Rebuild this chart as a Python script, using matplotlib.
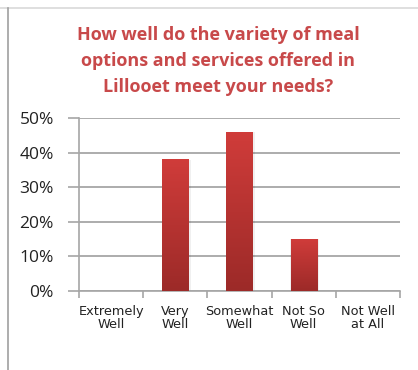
import numpy as np
import matplotlib.pyplot as plt
from matplotlib.lines import Line2D
from matplotlib.colors import LinearSegmentedColormap

categories = ["Extremely\nWell", "Very\nWell", "Somewhat\nWell", "Not So\nWell", "Not Well\nat All"]
shares = [0, 38, 46, 15, 0]
yticks = [0, 10, 20, 30, 40, 50]
title = "How well do the variety of meal\noptions and services offered in\nLillooet meet your needs?"

W, H = 418, 370
fig = plt.figure(figsize=(W / 100, H / 100), dpi=100)
fig.patch.set_facecolor("white")

# frame lines along the top and left edge
fig.add_artist(Line2D([0, 1], [1 - 8 / H, 1 - 8 / H], color="#d9d9d9", lw=1.2, transform=fig.transFigure))
fig.add_artist(Line2D([8 / W, 8 / W], [0, 1 - 8 / H], color="#a0a0a0", lw=1.2, transform=fig.transFigure))

ax = fig.add_axes([79 / W, 1 - 291 / H, (400 - 79) / W, (291 - 118.3) / H])
x = np.arange(len(categories))
bars = ax.bar(x, shares, width=0.41, color="none", edgecolor="none", zorder=3)

# vertical red gradient inside each bar
cmap = LinearSegmentedColormap.from_list("redgrad", ["#9c2a28", "#d03c3a"])
grad = np.linspace(0, 1, 256).reshape(-1, 1)
for b in bars:
    h = b.get_height()
    if h <= 0:
        continue
    x0 = b.get_x()
    w = b.get_width()
    # soft shadow
    ax.bar(x0 + w / 2 + 0.015, h, width=w + 0.04, color="#000000", alpha=0.06, zorder=2)
    ax.imshow(grad, extent=[x0, x0 + w, 0, h], origin="lower", aspect="auto",
              cmap=cmap, zorder=3, interpolation="bilinear")

ax.set_xlim(-0.5, len(categories) - 0.5)
ax.set_ylim(0, 50)
ax.set_yticks(yticks)
ax.set_yticklabels([f"{v}%" for v in yticks])
ax.yaxis.grid(True, color="#a6a6a6", lw=1.3, zorder=0)
ax.set_axisbelow(True)

ax.set_xticks(x)
ax.set_xticklabels(categories, fontsize=9.3, color="#222222", linespacing=1.0)
ax.set_xticks(np.arange(len(categories) + 1) - 0.5, minor=True)
ax.tick_params(axis="x", which="major", length=0, pad=10)
ax.tick_params(axis="x", which="minor", length=5, color="#a6a6a6", width=1.2)
ax.tick_params(axis="y", length=8, color="#a6a6a6", width=1.2, pad=10,
               labelsize=12.5, labelcolor="#222222")
for lab in ax.get_yticklabels():
    lab.set_fontfamily("Open Sans")

for s in ["top", "right"]:
    ax.spines[s].set_visible(False)
for s in ["left", "bottom"]:
    ax.spines[s].set_color("#a6a6a6")
    ax.spines[s].set_linewidth(1.2)

fig.text(218 / W, 1 - 61 / H, title, ha="center", va="center", color="#c8494a",
         fontsize=13, fontweight="bold", fontfamily="Open Sans", linespacing=1.55)

fig.savefig("out.png", dpi=100)
